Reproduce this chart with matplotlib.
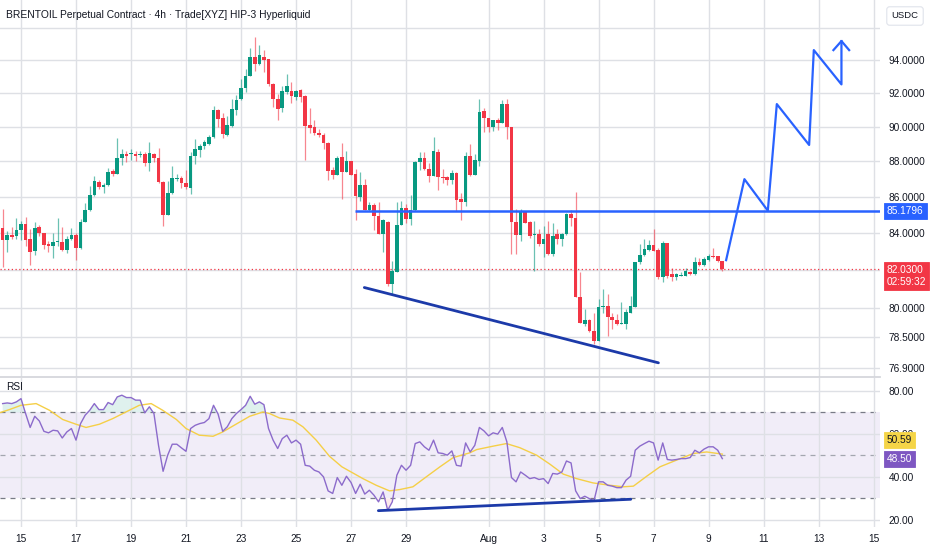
import numpy as np
import matplotlib
matplotlib.use("Agg")
import matplotlib.pyplot as plt
from matplotlib.transforms import blended_transform_factory

FONT = ["Liberation Sans Narrow", "Liberation Sans", "DejaVu Sans"]
plt.rcParams["font.family"] = FONT

# ---------------- data (4h candles, Jul 14 08:00 onward) ----------------
opens = [84.28, 83.58, 83.86, 83.81, 84.13, 84.50, 83.68, 83.00, 84.31, 83.96,
         83.40, 83.25, 83.47, 83.49, 83.06, 83.66, 83.85, 83.15, 84.56, 85.27,
         86.06, 86.81, 86.53, 86.66, 87.43, 87.28, 88.21, 88.44, 88.40, 88.44,
         88.38, 88.40, 87.91, 88.44, 88.16, 86.81, 84.97, 86.21, 87.00, 87.03,
         86.75, 86.49, 88.29, 88.64, 88.87, 88.97, 89.42, 91.00, 90.52, 89.50,
         90.04, 91.00, 91.63, 92.33, 93.00, 94.21, 93.77, 94.21, 94.04, 92.52,
         91.67, 91.08, 92.08, 92.13, 91.77, 92.17, 91.81, 90.08, 90.00, 89.65,
         89.53, 89.07, 87.50, 87.20, 88.25, 87.38, 88.04, 87.25, 86.00, 86.64,
         85.27, 85.53, 84.89, 83.95, 84.58, 81.22, 81.89, 84.44, 85.36, 84.73,
         85.27, 87.95, 88.20, 87.58, 87.16, 88.53, 87.13, 87.09, 86.91, 87.31,
         85.89, 85.71, 88.33, 87.22, 88.04, 90.94, 90.49, 89.96, 90.39, 90.20,
         91.33, 89.96, 84.58, 83.85, 85.16, 84.58, 83.85, 83.93, 83.38, 83.91,
         82.84, 83.91, 83.68, 83.91, 85.00, 84.82, 80.53, 79.14, 79.34, 78.79,
         78.28, 80.02, 80.09, 79.52, 79.36, 79.16, 79.14, 79.74, 80.04, 82.39,
         82.79, 83.07, 83.32, 83.07, 81.59, 83.46, 81.77, 81.63, 81.68, 81.68,
         81.89, 81.77, 82.43, 82.25, 82.54, 82.71, 82.71, 82.48]
highs = [85.31, 84.09, 84.33, 84.78, 84.65, 84.88, 84.22, 84.61, 84.41, 84.00,
         83.53, 84.00, 84.78, 84.33, 83.81, 84.28, 84.00, 84.75, 85.65, 86.62,
         87.18, 86.94, 86.77, 87.60, 87.56, 89.34, 88.72, 88.59, 88.72, 88.59,
         88.57, 88.53, 89.10, 88.50, 88.78, 86.90, 86.85, 87.71, 87.28, 87.18,
         87.52, 88.52, 89.26, 88.97, 89.22, 89.50, 91.23, 91.04, 90.81, 90.62,
         91.62, 91.87, 92.83, 93.46, 94.71, 95.40, 94.92, 94.62, 94.08, 92.63,
         91.96, 92.42, 93.17, 92.69, 92.20, 92.27, 91.87, 91.13, 90.38, 89.88,
         89.65, 89.11, 87.68, 88.33, 89.07, 88.58, 88.04, 87.53, 87.38, 86.98,
         85.67, 85.64, 85.67, 84.76, 84.62, 82.44, 85.67, 85.76, 85.58, 86.07,
         88.00, 88.53, 88.53, 87.89, 89.41, 88.73, 87.58, 87.16, 87.49, 87.40,
         86.22, 88.53, 89.02, 88.43, 91.67, 91.08, 90.49, 90.39, 90.49, 91.57,
         91.67, 90.00, 85.31, 85.31, 85.16, 84.62, 84.62, 84.18, 84.36, 84.64,
         84.51, 84.18, 84.00, 85.09, 85.27, 86.27, 81.86, 79.91, 79.40, 79.74,
         80.44, 80.97, 80.71, 79.74, 79.66, 80.27, 79.91, 80.58, 82.39, 83.38,
         83.64, 83.61, 84.18, 83.14, 83.55, 83.46, 82.07, 81.82, 81.86, 82.07,
         81.95, 82.66, 82.61, 82.66, 82.84, 83.16, 82.75, 82.48]
lows = [82.12, 82.97, 83.66, 83.66, 83.62, 83.25, 82.25, 82.78, 83.81, 83.10,
        82.97, 82.63, 83.28, 83.00, 82.91, 83.58, 82.53, 83.10, 84.56, 85.21,
        86.02, 86.40, 86.21, 86.62, 87.18, 87.28, 87.78, 87.97, 88.06, 88.03,
        88.27, 87.75, 87.43, 87.93, 86.77, 84.37, 84.97, 86.15, 86.85, 86.47,
        86.43, 86.13, 87.87, 88.25, 88.68, 88.91, 89.36, 90.00, 89.36, 89.46,
        89.98, 90.71, 91.58, 92.06, 93.00, 93.31, 93.67, 93.25, 92.42, 91.19,
        90.38, 90.85, 91.96, 91.42, 91.58, 91.48, 88.06, 89.61, 89.50, 89.42,
        88.72, 86.93, 87.01, 87.20, 85.85, 87.38, 87.20, 84.70, 85.76, 85.27,
        85.20, 84.13, 83.91, 82.95, 81.13, 80.73, 81.89, 84.40, 84.51, 84.40,
        85.20, 87.49, 87.49, 86.80, 87.16, 86.36, 86.76, 86.67, 86.73, 85.22,
        84.67, 85.49, 87.16, 87.22, 87.71, 89.71, 89.67, 89.76, 89.84, 90.20,
        89.31, 82.85, 82.85, 83.53, 84.55, 83.71, 81.95, 83.27, 82.66, 82.79,
        82.75, 83.38, 83.29, 83.86, 84.36, 80.53, 79.22, 79.05, 78.74, 78.10,
        78.28, 79.74, 78.53, 78.88, 79.09, 79.14, 78.88, 79.74, 80.04, 82.30,
        82.75, 83.02, 83.02, 81.50, 81.33, 81.58, 81.42, 81.47, 81.65, 81.65,
        81.72, 81.72, 82.18, 82.21, 82.48, 82.61, 82.43, 81.95]
closes = [83.58, 83.86, 83.79, 84.13, 84.50, 83.58, 82.93, 84.28, 83.96, 83.34,
          83.25, 83.49, 83.51, 83.06, 83.66, 83.85, 83.19, 84.60, 85.27, 86.06,
          86.85, 86.53, 86.66, 87.41, 87.28, 88.21, 88.44, 88.31, 88.46, 88.31,
          88.44, 87.91, 88.50, 88.16, 86.81, 84.97, 86.21, 87.03, 87.05, 86.75,
          86.53, 88.33, 88.72, 88.87, 89.11, 89.42, 91.00, 90.46, 89.55, 90.08,
          91.06, 91.58, 92.33, 93.00, 94.21, 93.77, 94.29, 94.00, 92.52, 91.67,
          91.04, 92.13, 92.42, 91.81, 92.13, 91.77, 90.04, 89.94, 89.61, 89.50,
          89.03, 87.44, 87.20, 88.19, 87.38, 88.04, 87.20, 86.04, 86.64, 85.27,
          85.53, 84.89, 83.91, 84.67, 81.22, 81.95, 84.44, 85.36, 84.73, 85.27,
          87.95, 88.20, 87.58, 87.16, 88.59, 87.09, 87.04, 86.91, 87.31, 85.82,
          85.71, 88.33, 87.22, 88.08, 90.88, 90.49, 89.96, 90.39, 90.20, 91.33,
          89.96, 84.58, 83.85, 85.16, 84.55, 83.82, 83.93, 83.40, 83.64, 82.84,
          83.82, 83.64, 83.91, 85.00, 84.82, 80.53, 79.22, 79.34, 78.79, 78.28,
          80.04, 80.05, 79.52, 79.36, 79.14, 79.19, 79.78, 80.09, 82.39, 82.79,
          83.11, 83.32, 83.02, 81.59, 83.46, 81.65, 81.59, 81.77, 81.73, 81.93,
          81.77, 82.43, 82.25, 82.57, 82.71, 82.66, 82.48, 82.03]

rsi = [74.1, 74.4, 74.1, 74.9, 76.4, 69.5, 63.0, 68.2, 66.0, 61.2,
       60.5, 61.7, 61.4, 58.1, 60.9, 62.5, 57.1, 64.8, 68.7, 71.0,
       74.1, 71.3, 71.3, 74.6, 73.6, 77.2, 78.0, 76.9, 76.9, 75.7,
       75.7, 69.8, 72.6, 69.5, 54.7, 42.6, 50.1, 55.2, 55.2, 53.5,
       51.9, 62.5, 64.0, 64.8, 65.3, 67.1, 73.3, 69.2, 61.2, 63.3,
       67.1, 69.5, 71.3, 73.3, 77.5, 73.8, 74.9, 73.6, 62.5, 57.1,
       53.2, 57.8, 59.4, 55.8, 57.1, 55.2, 45.4, 45.0, 43.1, 42.3,
       40.0, 33.5, 32.3, 39.7, 36.1, 40.3, 37.4, 32.3, 36.6, 32.0,
       33.8, 31.5, 28.4, 33.0, 24.5, 28.4, 40.8, 45.4, 43.1, 45.4,
       55.5, 56.3, 54.0, 52.4, 57.1, 51.2, 50.9, 50.1, 52.1, 45.4,
       45.0, 55.8, 51.6, 54.7, 63.0, 61.4, 59.1, 60.5, 59.9, 63.0,
       56.3, 39.7, 37.7, 42.3, 40.8, 39.2, 39.7, 38.8, 39.2, 36.9,
       41.6, 41.3, 42.3, 47.4, 46.5, 33.5, 29.9, 31.0, 29.9, 28.9,
       37.7, 37.7, 36.1, 35.7, 35.0, 35.0, 38.5, 40.3, 52.4, 54.3,
       55.5, 56.6, 55.8, 47.8, 55.8, 48.1, 47.8, 48.1, 48.5, 48.5,
       49.0, 52.4, 51.2, 52.9, 54.0, 54.0, 52.4, 48.5]

# RSI-based moving average, read at bar positions (bar index, value)
ma_bar = [-0.72, 1.46, 4.0, 7.3, 10.2, 13.1, 16.0, 18.2, 21.1, 24.0, 26.9, 29.8,
          32.4, 34.9, 37.9, 40.0, 42.9, 45.9, 48.0, 50.9, 53.9, 56.8, 58.2, 60.4,
          63.3, 65.5, 68.4, 71.3, 74.0, 78.6, 81.5, 84.4, 86.6, 89.5, 92.4, 95.4,
          98.3, 101.9, 103.4, 107.0, 109.9, 112.8, 116.5, 119.4, 122.3, 125.2,
          128.8, 132.5, 135.4, 137.6, 140.5, 143.4, 147.0, 150.7, 153.6, 157.0]
ma_val = [69.8, 71.3, 73.3, 74.1, 71.0, 66.7, 64.5, 63.0, 64.5, 67.1, 70.2, 73.3,
          74.1, 71.0, 66.7, 62.5, 59.4, 58.9, 60.9, 64.5, 68.2, 70.2, 69.5, 67.4,
          66.4, 63.3, 57.1, 49.6, 44.7, 39.2, 36.1, 33.5, 34.1, 35.4, 40.0, 44.7,
          49.0, 51.2, 52.7, 54.3, 55.5, 53.6, 50.1, 45.9, 41.3, 39.2,
          37.2, 36.1, 35.4, 35.7, 40.3, 44.7, 47.8, 50.9, 51.6, 50.59]

price_ticks = [96, 94, 92, 90, 88, 86, 84, 82, 80, 78.5, 76.9]
price_labels = ["", "94.0000", "92.0000", "90.0000", "88.0000", "86.0000",
                "84.0000", "", "80.0000", "78.5000", "76.9000"]
rsi_ticks = [80, 60, 40, 20]
date_days = [0, 2, 4, 6, 8, 10, 12, 14, 17, 19, 21, 23, 25, 27, 29, 31]
date_labels = ["15", "17", "19", "21", "23", "25", "27", "29", "Aug", "3", "5",
               "7", "9", "11", "13", "15"]

level_price = 85.1796
last_price = 82.03
countdown = "02:59:32"
rsi_last = 48.50
ma_last = 50.59

# drawings (bar index, value)
hline_start = 76.9
trend_bar = [78.9, 143.06]
trend_val = [81.05, 77.17]
rsi_trend_bar = [81.96, 137.03]
rsi_trend_val = [24.3, 29.6]
proj_bar = [157.83, 161.82, 166.93, 168.89, 175.94, 176.96, 182.99, 182.99]
proj_val = [82.51, 86.98, 85.21, 91.34, 88.94, 94.61, 92.52, 95.17]
arrow_bar = [181.24, 182.99, 184.67]
arrow_val = [94.61, 95.17, 94.61]

# ---------------- figure ----------------
W, H = 932, 550
fig = plt.figure(figsize=(W / 100, H / 100), dpi=100)
fig.patch.set_facecolor("white")


def rect(x0, y0, x1, y1):
    return [x0 / W, 1 - y1 / H, (x1 - x0) / W, (y1 - y0) / H]


ax = fig.add_axes(rect(0, 0, 880, 377))
ax2 = fig.add_axes(rect(0, 378, 880, 527))

UP = "#089981"
DN = "#F23645"
BLUE = "#2962FF"
NAVY = "#1C3AA9"
TXT = "#131722"
GRID = "#DEE0E5"
FS = 7.3

o = np.array(opens); h = np.array(highs); l = np.array(lows); c = np.array(closes)
x = np.arange(len(o))
cols = np.where(c >= o, UP, DN)

ax.set_yscale("log")
ax.vlines(x, l, h, colors=cols, lw=0.9, alpha=0.6, zorder=3)
body_lo = np.minimum(o, c)
body_h = np.maximum(np.abs(c - o), 0.05)
ax.bar(x, body_h, bottom=body_lo, width=0.8, color=cols, lw=0, zorder=4)

ax.set_xlim(-0.58, 191.4)
ax.set_ylim(76.46, 97.75)

ax.axhline(last_price, color=DN, lw=0.9, ls=(0, (1, 2)), zorder=2)
ax.hlines(level_price, hline_start, 191.4, color=BLUE, lw=1.8, zorder=5)
ax.plot(trend_bar, trend_val, color=NAVY, lw=2, zorder=5, solid_capstyle="round")
ax.plot(proj_bar, proj_val, color=BLUE, lw=1.6, zorder=5)
ax.plot(arrow_bar, arrow_val, color=BLUE, lw=1.6, zorder=5)

xt = [6 * d + 4 for d in date_days]
for a in (ax, ax2):
    a.set_xticks(xt)
    a.set_xlim(-0.58, 191.4)
    a.grid(True, axis="x", color=GRID, lw=1, zorder=0)
    for s in a.spines.values():
        s.set_visible(False)
    a.yaxis.tick_right()
    a.tick_params(axis="y", length=0, pad=6, labelsize=FS, labelcolor=TXT)
    a.set_facecolor("white")

ax.tick_params(axis="x", length=0, labelbottom=False)
ax.set_yticks(price_ticks)
ax.set_yticklabels(price_labels)
ax.yaxis.set_minor_locator(matplotlib.ticker.NullLocator())
ax.grid(True, axis="y", color=GRID, lw=1, zorder=0)
ax.spines["bottom"].set_visible(True)
ax.spines["bottom"].set_color("#D5D7DC")
ax.spines["bottom"].set_linewidth(1.3)

# ---- RSI pane ----
r = np.array(rsi)
ax2.set_ylim(16.7, 86.0)
ax2.axhspan(30, 70, color="#7E57C2", alpha=0.1, lw=0, zorder=0.5)
ax2.set_yticks(rsi_ticks)
ax2.set_yticklabels([f"{v:.2f}" for v in rsi_ticks])
ax2.grid(True, axis="y", color=GRID, lw=1, zorder=0)
for lvl, colr in ((70, "#787B86"), (30, "#787B86"), (50, "#A3A6AF")):
    ax2.axhline(lvl, color=colr, lw=0.9, ls=(0, (4, 4)), zorder=1)
ax2.fill_between(x, r, 70, where=r > 70, interpolate=True, color=UP, alpha=0.13, lw=0, zorder=1.5)
ax2.fill_between(x, r, 30, where=r < 30, interpolate=True, color=DN, alpha=0.10, lw=0, zorder=1.5)
ax2.plot(ma_bar, ma_val, color="#F5CF47", lw=1.0, zorder=3)
ax2.plot(x, r, color="#8C6BCB", lw=1.0, zorder=4)
ax2.plot(rsi_trend_bar, rsi_trend_val, color=NAVY, lw=2, zorder=5, solid_capstyle="round")
ax2.set_xticklabels(date_labels)
ax2.tick_params(axis="x", length=0, pad=5, labelsize=FS, labelcolor=TXT)

# ---- right-side value labels ----
def tag(a, val, text, fc, tc, dy=0.0, ec=None):
    tr = blended_transform_factory(a.transAxes, a.transData)
    a.annotate(text, xy=(1.0, val), xycoords=tr, xytext=(5, dy), textcoords="offset points",
               ha="left", va="center", fontsize=FS, color=tc, zorder=10, annotation_clip=False,
               bbox=dict(boxstyle="square,pad=0.3", fc=fc, ec=ec if ec else fc, lw=0.6))


tag(ax, level_price, f"{level_price:.4f}", BLUE, "white")
tag(ax, last_price, f"{last_price:.4f}\n{countdown}", DN, "white", dy=-5)
tag(ax2, ma_last, f"{ma_last:.2f}", "#F5D547", TXT, dy=10)
tag(ax2, rsi_last, f"{rsi_last:.2f}", "#7E57C2", "white", dy=0)

fig.text(6 / W, 1 - 15 / H, "BRENTOIL Perpetual Contract · 4h · Trade[XYZ] HIP-3 Hyperliquid",
         fontsize=7.4, color=TXT, ha="left", va="center")
fig.text(905 / W, 1 - 16 / H, "USDC", fontsize=6.8, color=TXT, ha="center", va="center",
         bbox=dict(boxstyle="round,pad=0.5,rounding_size=0.3", fc="white", ec="#E0E3EB", lw=0.8))
ax2.text(0.007, 0.94, "RSI", transform=ax2.transAxes, fontsize=FS, color=TXT,
         ha="left", va="center", zorder=10)

fig.savefig("out.png", dpi=100, facecolor="white")
